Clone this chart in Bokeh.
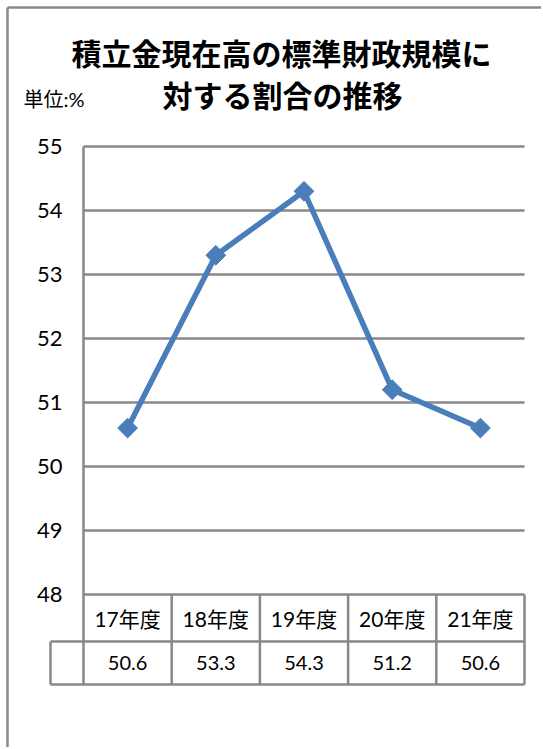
from bokeh.plotting import figure
from bokeh.models import Range1d, ColumnDataSource
from bokeh.core.properties import value
from bokeh.embed import file_html
from bokeh.resources import INLINE
import math

# ---- data ----
categories = ["17年度", "18年度", "19年度", "20年度", "21年度"]
ratios = [50.6, 53.3, 54.3, 51.2, 50.6]
value_labels = ["50.6", "53.3", "54.3", "51.2", "50.6"]
y_ticks = [48, 49, 50, 51, 52, 53, 54, 55]
title_lines = ["積立金現在高の標準財政規模に", "対する割合の推移"]
unit_label = "単位:%"

# ---- layout (pixels, relative to canvas) ----
W, H = 541, 747
PLOT_L, PLOT_R = 83, 524          # plot area x extents
PLOT_T = 146                      # y of top gridline
PX_PER_UNIT = 64.0
ROW1_H = 47.0
ROW2_H = 43.0
CELL_L = 50                       # left edge of legend cell in table
YMIN, YMAX = min(y_ticks), max(y_ticks)
n = len(categories)
col_w = (PLOT_R - PLOT_L) / n

def X(px):
    return (px - PLOT_L) / col_w

def Y(py):
    return YMAX - (py - PLOT_T) / PX_PER_UNIT

p = figure(width=W, height=H, output_backend="svg", toolbar_location=None,
           x_range=Range1d(X(0), X(W)), y_range=Range1d(Y(H), Y(0)),
           min_border=0, x_axis_type=None, y_axis_type=None)
p.outline_line_color = None
p.xgrid.visible = False
p.ygrid.visible = False
p.background_fill_color = "white"
p.border_fill_color = "white"

GRAY = "#898989"
LW = 2.5

# outer frame (left and top edges)
p.segment(x0=[X(7), X(7)], y0=[Y(7), Y(7)], x1=[X(7), X(W)], y1=[Y(H), Y(7)],
          line_color=GRAY, line_width=2.5)

# gridlines
p.segment(x0=[0] * len(y_ticks), y0=y_ticks, x1=[n] * len(y_ticks), y1=y_ticks,
          line_color=GRAY, line_width=LW)

# table
row1_bottom = YMIN - ROW1_H / PX_PER_UNIT
row2_bottom = row1_bottom - ROW2_H / PX_PER_UNIT
# left axis line down through table
p.segment(x0=[0], y0=[YMAX], x1=[0], y1=[row2_bottom], line_color=GRAY, line_width=LW)
# column separators
p.segment(x0=list(range(1, n + 1)), y0=[YMIN] * n, x1=list(range(1, n + 1)), y1=[row2_bottom] * n,
          line_color=GRAY, line_width=LW)
# horizontal lines of the value row and legend cell
p.segment(x0=[X(CELL_L), X(CELL_L), X(CELL_L)], y0=[row1_bottom, row2_bottom, row1_bottom],
          x1=[n, n, X(CELL_L)], y1=[row1_bottom, row2_bottom, row2_bottom],
          line_color=GRAY, line_width=LW)

xs = [i + 0.5 for i in range(n)]
cjk = value("Lato, 'Noto Sans CJK JP'")

# category labels and values
p.text(x=xs, y=[(YMIN + row1_bottom) / 2] * n, text=categories, text_font=cjk,
       text_font_size="21px", text_align="center", text_baseline="middle", text_color="black")
p.text(x=xs, y=[(row1_bottom + row2_bottom) / 2] * n, text=value_labels, text_font=cjk,
       text_font_size="20px", text_align="center", text_baseline="middle", text_color="black")

# y tick labels
p.text(x=[X(62)] * len(y_ticks), y=y_ticks, text=[str(t) for t in y_ticks], text_font=value("Lato"),
       text_font_size="22px", text_align="right", text_baseline="middle", text_color="black")

# line + markers
src = ColumnDataSource(dict(x=xs, y=ratios))
BLUE = "#4A7EBB"
p.line("x", "y", source=src, line_color=BLUE, line_width=5.5)
p.scatter("x", "y", source=src, marker="square", size=14, angle=math.pi / 4,
          fill_color=BLUE, line_color=BLUE)

# title and unit
p.text(x=[X(281), X(282)], y=[Y(51), Y(93)], text=title_lines,
       text_font=value("Noto Sans CJK JP"), text_font_style="bold", text_font_size="30px",
       text_align="center", text_baseline="middle", text_color="black")
p.text(x=[X(23)], y=[Y(98)], text=[unit_label], text_font=cjk, text_font_size="20px",
       text_align="left", text_baseline="middle", text_color="black")

open("out.html", "w").write(file_html(p, INLINE))
